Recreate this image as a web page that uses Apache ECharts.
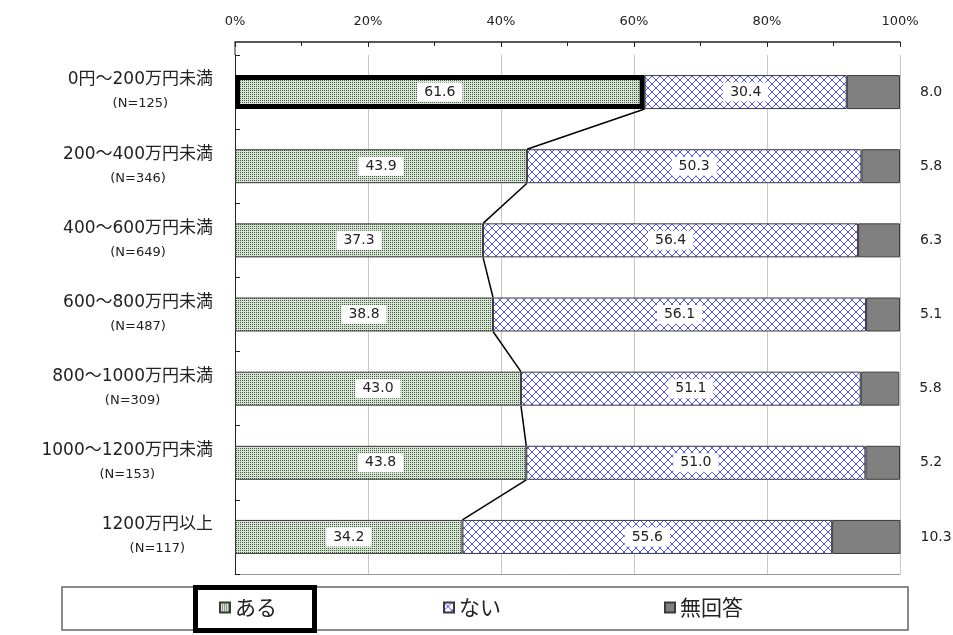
<!DOCTYPE html>
<html>
<head>
<meta charset="utf-8">
<script src="https://cdn.jsdelivr.net/npm/echarts@6/dist/echarts.min.js"></script>
<style>
  html, body { margin: 0; padding: 0; background: #fff; }
  #main { width: 953px; height: 635px; }
</style>
</head>
<body>
<div id="main"></div>
<script>
// 年収別（ある／ない／無回答）
var categories = ['0円～200万円未満', '200～400万円未満', '400～600万円未満', '600～800万円未満',
  '800～1000万円未満', '1000～1200万円未満', '1200万円以上'];
var sampleSizes = [125, 346, 649, 487, 309, 153, 117];
var aru = [61.6, 43.9, 37.3, 38.8, 43.0, 43.8, 34.2];
var nai = [30.4, 50.3, 56.4, 56.1, 51.1, 51.0, 55.6];
var mukaitou = [8.0, 5.8, 6.3, 5.1, 5.8, 5.2, 10.3];
var legendNames = ['ある', 'ない', '無回答'];

var BAR_W = 34;

// 塗りパターン
function makePattern(size, draw) {
  var c = document.createElement('canvas');
  c.width = size; c.height = size;
  draw(c.getContext('2d'));
  return { image: c, repeat: 'repeat' };
}
var dotFill = makePattern(2, function (ctx) {
  ctx.fillStyle = '#d8e3d5';
  ctx.fillRect(0, 0, 2, 2);
  ctx.fillStyle = '#3a5e3a';
  ctx.fillRect(0, 0, 1, 1);
});
var hatchFill = makePattern(8, function (ctx) {
  ctx.fillStyle = '#ffffff';
  ctx.fillRect(0, 0, 8, 8);
  ctx.fillStyle = '#5252ff';
  for (var i = 0; i < 8; i++) {
    ctx.fillRect(i, i, 1, 1);
    ctx.fillRect(7 - i, i, 1, 1);
  }
});

// 「ある」の端をつなぐ線
var connectors = aru.slice(0, -1).map(function (v, i) { return [i, v, aru[i + 1]]; });

var numLabel = {
  show: true,
  position: 'inside',
  formatter: function (p) { return p.value.toFixed(1); },
  backgroundColor: '#fff',
  color: '#222',
  fontSize: 14,
  fontFamily: 'DejaVu Sans',
  padding: [3, 7, 2, 7]
};

var aruData = aru.map(function (v, i) {
  if (i === 0) return { value: v, itemStyle: { borderColor: '#000', borderWidth: 5 } };
  return v;
});

var chart = echarts.init(document.getElementById('main'));
chart.setOption({
  animation: false,
  grid: { left: 235, right: 53, top: 55, bottom: 61, containLabel: false, outerBoundsMode: 'none' },
  xAxis: [{
    type: 'value', min: 0, max: 100, interval: 20, position: 'top', offset: 13,
    axisLine: { show: true, lineStyle: { color: '#222', width: 1.5 } },
    axisTick: { show: true, inside: true, length: 5, lineStyle: { color: '#222' } },
    minorTick: { show: true, splitNumber: 2, length: 4, lineStyle: { color: '#222' } },
    axisLabel: { formatter: '{value}%', fontSize: 13, color: '#222', margin: 14, fontFamily: 'DejaVu Sans' },
    splitLine: { show: true, lineStyle: { color: '#c8c8c8' } }
  }, {
    type: 'value', min: 0, max: 100, position: 'bottom',
    axisLine: { show: true, lineStyle: { color: '#999' } },
    axisTick: { show: false }, axisLabel: { show: false }, splitLine: { show: false }
  }],
  yAxis: {
    type: 'category', inverse: true, data: categories,
    axisLine: { show: true, lineStyle: { color: '#222' } },
    axisTick: { show: true, inside: true, length: 5, lineStyle: { color: '#222' } },
    axisLabel: {
      margin: 22,
      formatter: function (v, idx) { return '{a|' + v + '}\n{b|(N=' + sampleSizes[idx] + ')}'; },
      rich: {
        a: { fontSize: 17, lineHeight: 24, align: 'center', color: '#222', fontFamily: "'DejaVu Sans','Noto Sans CJK JP'" },
        b: { fontSize: 13, lineHeight: 24, align: 'center', color: '#222', fontFamily: 'DejaVu Sans' }
      }
    }
  },
  legend: [
    { data: [legendNames[0]], left: 219, top: 597 },
    { data: [legendNames[1]], left: 443, top: 597 },
    { data: [legendNames[2]], left: 664, top: 597 }
  ].map(function (l) {
    l.padding = 0; l.itemWidth = 10; l.itemHeight = 10; l.icon = 'rect';
    l.textStyle = { fontSize: 21, color: '#222', fontFamily: 'Noto Sans CJK JP' };
    return l;
  }),
  graphic: [
    { type: 'line', shape: { x1: 235, y1: 42, x2: 235, y2: 55 }, style: { stroke: '#222', lineWidth: 1 } },
    { type: 'rect', shape: { x: 62, y: 587, width: 846, height: 43 }, style: { fill: 'transparent', stroke: '#666', lineWidth: 1.5 } },
    { type: 'rect', shape: { x: 195.5, y: 587.5, width: 119, height: 43 }, style: { fill: 'transparent', stroke: '#000', lineWidth: 5 } }
  ],
  series: [{
    name: legendNames[0], type: 'bar', stack: 'total', barWidth: BAR_W, z: 3,
    itemStyle: { color: dotFill, borderColor: '#3a3a3a', borderWidth: 1 },
    label: numLabel,
    data: aruData
  }, {
    name: legendNames[1], type: 'bar', stack: 'total', barWidth: BAR_W,
    itemStyle: { color: hatchFill, borderColor: '#3a3a3a', borderWidth: 1 },
    label: numLabel,
    data: nai
  }, {
    name: legendNames[2], type: 'bar', stack: 'total', barWidth: BAR_W,
    itemStyle: { color: '#808080', borderColor: '#3a3a3a', borderWidth: 1 },
    label: {
      show: true, position: 'right', distance: 20, color: '#222', fontSize: 14, fontFamily: 'DejaVu Sans',
      formatter: function (p) { return p.value.toFixed(1); }
    },
    data: mukaitou
  }, {
    type: 'custom', z: 4, silent: true,
    encode: { x: [1, 2], y: 0 },
    data: connectors,
    renderItem: function (params, api) {
      var i = api.value(0);
      var p1 = api.coord([api.value(1), i]);
      var p2 = api.coord([api.value(2), i + 1]);
      return {
        type: 'line',
        shape: { x1: p1[0], y1: p1[1] + BAR_W / 2, x2: p2[0], y2: p2[1] - BAR_W / 2 },
        style: { stroke: '#000', lineWidth: 1.5 }
      };
    }
  }]
});
</script>
</body>
</html>
